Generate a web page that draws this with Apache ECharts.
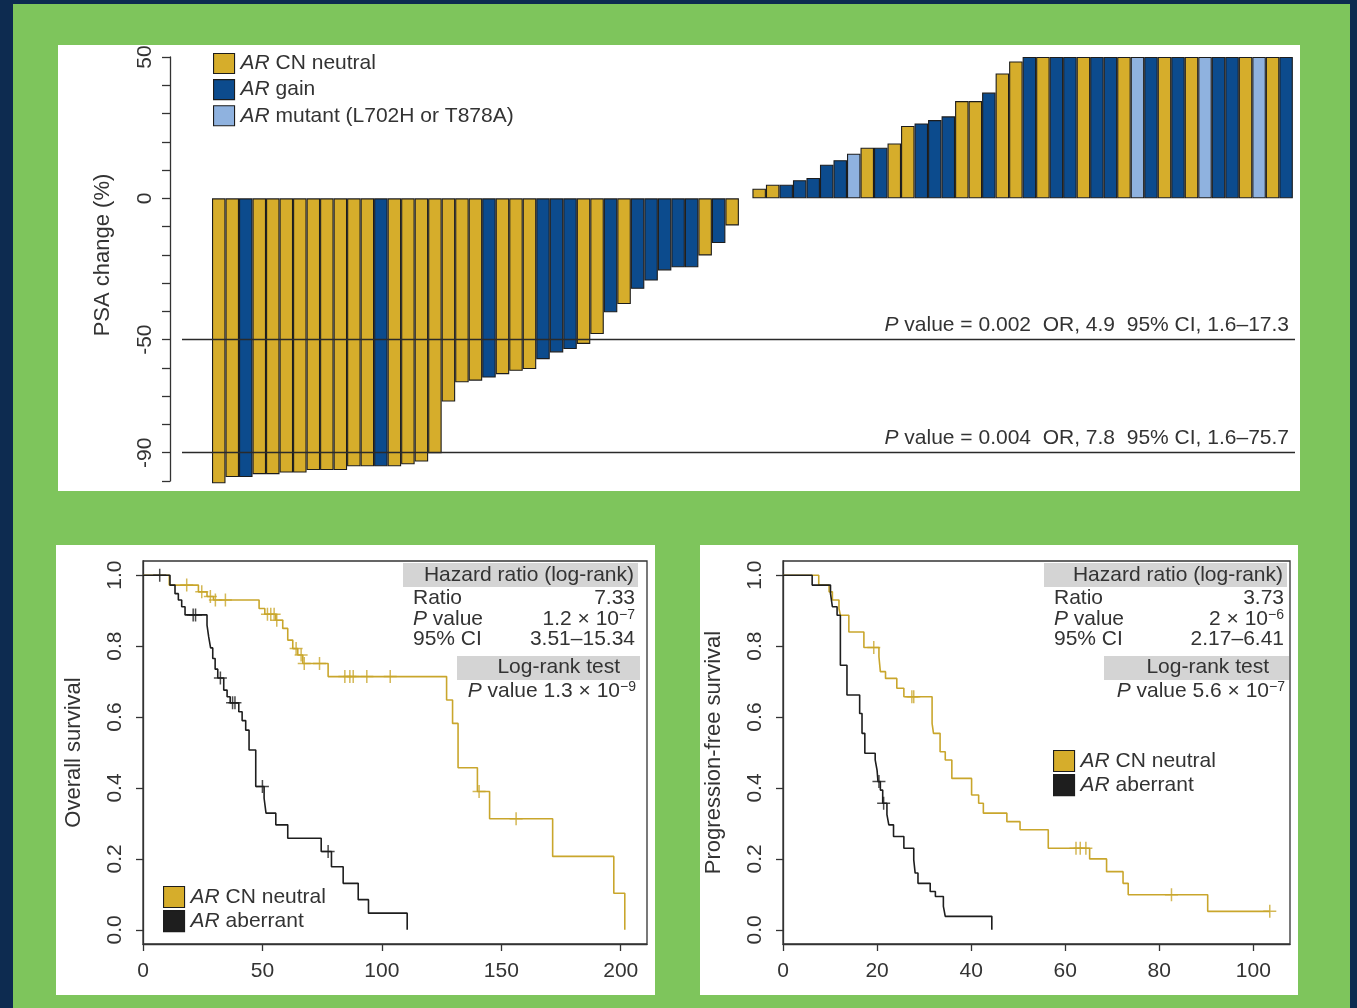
<!DOCTYPE html>
<html>
<head>
<meta charset="utf-8">
<script src="https://cdn.jsdelivr.net/npm/echarts@6/dist/echarts.min.js"></script>
<style>
  html, body { margin: 0; padding: 0; width: 1357px; height: 1008px; overflow: hidden; background: #0d2b50; }
  #bg { position: absolute; left: 13px; top: 4px; width: 1337px; height: 1004px; background: #7ec55c; }
  .panel { position: absolute; background: #ffffff; }
  #chart { position: absolute; left: 0; top: 0; width: 1357px; height: 1008px; }
</style>
</head>
<body>
<div id="bg"></div>
<div class="panel" style="left:58px;top:45px;width:1242px;height:446px"></div>
<div class="panel" style="left:56px;top:545px;width:599px;height:450px"></div>
<div class="panel" style="left:700px;top:545px;width:598px;height:450px"></div>
<div id="chart"></div>
<script>
// ---------- PSA waterfall: best PSA change per patient, sorted ----------
const psaChange = [
  -100.8, -98.6, -98.6, -97.6, -97.6, -97, -97, -96.1, -96.1, -96.1,
  -94.8, -94.8, -94.8, -94.8, -94.1, -93.1, -90.2, -71.9, -65.1, -64.5,
  -63.4, -62.2, -61, -60.4, -56.9, -54.5, -53.3, -51.5, -48, -40.3,
  -37.4, -32, -29.1, -25.5, -24.4, -24.4, -20.2, -15.8, -9.6, 0,
  3.4, 4.8, 4.8, 6.4, 7.2, 11.9, 13.5, 15.8, 17.9, 17.9,
  19.4, 25.6, 26.5, 27.7, 29, 34.4, 34.4, 37.4, 44.2, 48.4,
  50, 50, 50, 50, 50, 50, 50, 50, 50, 50,
  50, 50, 50, 50, 50, 50, 50, 50, 50, 50
];
// N = AR CN neutral, G = AR gain, M = AR mutant
const arStatus = [
  'N','N','G','N','N','N','N','N','N','N',
  'N','N','G','N','N','N','N','N','N','N',
  'G','N','N','N','G','G','G','N','N','G',
  'N','G','G','G','G','G','N','G','N','N',
  'N','N','G','G','G','G','G','M','N','G',
  'N','N','G','G','G','N','N','G','N','N',
  'G','N','G','G','N','G','G','N','M','G',
  'N','G','N','M','G','G','N','M','N','G'
];
const statusNames = { N: 'AR CN neutral', G: 'AR gain', M: 'AR mutant (L702H or T878A)' };
const psaTicks = [-100, -90, -80, -70, -60, -50, -40, -30, -20, -10, 0, 10, 20, 30, 40, 50];
const psaTickLabels = [-90, -50, 0, 50];
const responseCuts = [
  { level: -50, text: '{i|P} value = 0.002  OR, 4.9  95% CI, 1.6\u201317.3' },
  { level: -90, text: '{i|P} value = 0.004  OR, 7.8  95% CI, 1.6\u201375.7' }
];

// ---------- Kaplan-Meier: overall survival (months) ----------
const osNeutralTime = [0, 11, 23.2, 26.8, 29.5, 48.6, 51, 55.6, 58.5, 60.6, 62.7, 64.8, 66.9, 77.5, 127.1, 129.6, 131.9, 140, 145.1, 171.5, 197.1, 201.7];
const osNeutralSurv = [1, 0.972, 0.953, 0.94, 0.93, 0.906, 0.89, 0.873, 0.85, 0.817, 0.793, 0.775, 0.751, 0.714, 0.648, 0.582, 0.457, 0.39, 0.313, 0.207, 0.103, 0];
const osNeutralCensor = [18.3, 24.6, 28.2, 30.3, 34.5, 52.1, 53.5, 54.9, 56, 64.1, 66.2, 67.5, 73.9, 84.5, 86.6, 88, 93.7, 103.5, 140.7, 156.2];

const osAberrantTime = [0, 11.3, 13.4, 14.8, 16.2, 17.6, 26.8, 27.5, 28.3, 29.2, 30.2, 31.3, 33.8, 35.2, 36.5, 40.1, 41.5, 43, 44.4, 47.2, 50.7, 51.5, 55.6, 60.6, 74.6, 78.9, 83.8, 90.1, 94.4, 110.6];
const osAberrantSurv = [1, 0.972, 0.948, 0.93, 0.911, 0.888, 0.859, 0.826, 0.795, 0.765, 0.735, 0.71, 0.676, 0.657, 0.64, 0.615, 0.59, 0.563, 0.507, 0.404, 0.371, 0.329, 0.296, 0.258, 0.221, 0.178, 0.131, 0.085, 0.047, 0];
const osAberrantCensor = [7, 21, 22, 32.4, 37.5, 38.5, 50, 77.5];

// ---------- Kaplan-Meier: progression-free survival (months) ----------
const pfsNeutralTime = [0, 7.6, 9.8, 10.5, 11.9, 12.2, 14, 17.2, 20.4, 20.7, 21.8, 24.2, 25.7, 31.7, 32, 33.4, 34.5, 35.9, 40.1, 41.6, 42.6, 47.6, 50.4, 56.4, 65.2, 68.8, 72.3, 73.4, 90.3, 103.5];
const pfsNeutralSurv = [1, 0.972, 0.953, 0.93, 0.906, 0.887, 0.84, 0.796, 0.77, 0.728, 0.709, 0.681, 0.657, 0.582, 0.554, 0.502, 0.479, 0.427, 0.38, 0.357, 0.329, 0.305, 0.282, 0.23, 0.2, 0.164, 0.131, 0.099, 0.052, 0.052];
const pfsNeutralCensor = [19.3, 27.4, 27.8, 62.3, 63.2, 64.4, 82.6, 103.5];

const pfsAberrantTime = [0, 6.2, 10.1, 10.5, 11.5, 12.2, 13.6, 16.3, 16.8, 17.4, 19.6, 20.0, 20.2, 20.7, 21.2, 22.1, 22.5, 23.5, 25.7, 27.8, 28.1, 28.7, 31.3, 32.4, 34.1, 34.5, 44.4];
const pfsAberrantSurv = [1, 0.972, 0.948, 0.911, 0.887, 0.746, 0.662, 0.61, 0.554, 0.498, 0.479, 0.45, 0.418, 0.394, 0.357, 0.325, 0.296, 0.263, 0.23, 0.197, 0.16, 0.131, 0.108, 0.094, 0.066, 0.038, 0];
const pfsAberrantCensor = [20.4, 21.4];

const survTicks = [0, 0.2, 0.4, 0.6, 0.8, 1.0];
const osTicks = [0, 50, 100, 150, 200];
const pfsTicks = [0, 20, 40, 60, 80, 100];

// ---------- styling ----------
const FONT = '"Liberation Sans", Arial, Helvetica, sans-serif';
const INK = '#333333';
const GOLD = '#d6ad2b';
const NAVY = '#0c4b8d';
const SKY = '#8fb2df';
const KM_GOLD = '#c9a62c';
const KM_BLACK = '#1e1e1e';
const statusColors = { N: GOLD, G: NAVY, M: SKY };
const FS = 21;

const italicRich = {
  i: { fontStyle: 'italic', fontSize: FS, fontFamily: FONT, color: INK, lineHeight: 21 }
};

function barSeries(code) {
  const data = [];
  psaChange.forEach((v, i) => {
    if (arStatus[i] !== code) return;
    const item = { value: [i + 0.5, v] };
    if (v === 0) item.itemStyle = { borderWidth: 0 };
    data.push(item);
  });
  const s = {
    type: 'bar', name: statusNames[code], xAxisIndex: 0, yAxisIndex: 0,
    barWidth: 13.5, barGap: '-100%', clip: false,
    itemStyle: { color: statusColors[code], borderColor: '#1c1c1c', borderWidth: 1.1 },
    data: data
  };
  if (code === 'N') {
    s.markLine = {
      silent: true, symbol: 'none', animation: false,
      lineStyle: { color: '#2a2a2a', width: 1.3, type: 'solid' },
      label: {
        show: true, position: 'insideEndTop', distance: [6, 4],
        fontSize: FS, fontFamily: FONT, color: INK, rich: italicRich
      },
      data: responseCuts.map(c => ({ yAxis: c.level, label: { formatter: c.text } }))
    };
  }
  return s;
}

function stepData(times, surv) {
  return times.map((t, i) => [t, surv[i]]);
}
function survivalAt(times, surv, t) {
  let s = surv[0];
  for (let i = 0; i < times.length; i++) { if (times[i] <= t) s = surv[i]; }
  return s;
}
function censorData(censor, times, surv) {
  return censor.map(t => [t, survivalAt(times, surv, t)]);
}

function kmLine(name, grid, times, surv, color) {
  return {
    type: 'line', name: name, xAxisIndex: grid, yAxisIndex: grid,
    step: 'end', showSymbol: false, symbol: 'none',
    color: color, itemStyle: { color: color },
    lineStyle: { color: color, width: 1.6 },
    data: stepData(times, surv), z: 3
  };
}
function kmCensor(grid, censor, times, surv, color) {
  return {
    type: 'scatter', xAxisIndex: grid, yAxisIndex: grid,
    symbol: 'path://M0,6L12,6M6,0L6,12', symbolSize: 13,
    itemStyle: { color: 'rgba(0,0,0,0)', borderColor: color, borderWidth: 1.5 },
    data: censorData(censor, times, surv), z: 4, silent: true
  };
}

function kmXAxis(grid, max, ticks) {
  return {
    type: 'value', gridIndex: grid, min: 0, max: max,
    axisLine: { show: true, onZero: false, lineStyle: { color: INK, width: 1.3 } },
    axisTick: { show: true, length: 7, customValues: ticks, lineStyle: { color: INK, width: 1.3 } },
    axisLabel: { customValues: ticks, margin: 17, fontSize: FS, fontFamily: FONT, color: INK },
    splitLine: { show: false }
  };
}
function kmYAxis(grid, title) {
  return {
    type: 'value', gridIndex: grid, min: -0.04, max: 1.04,
    name: title, nameLocation: 'middle', nameRotate: 90, nameGap: 58,
    nameTextStyle: { fontSize: 22, fontFamily: FONT, color: INK },
    axisLine: { show: true, onZero: false, lineStyle: { color: INK, width: 1.3 } },
    axisTick: { show: true, length: 7, customValues: survTicks, lineStyle: { color: INK, width: 1.3 } },
    axisLabel: {
      customValues: survTicks, rotate: 90, margin: 17, fontSize: FS, fontFamily: FONT, color: INK,
      formatter: v => Number(v).toFixed(1)
    },
    splitLine: { show: false }
  };
}

// text helpers for the statistics blocks
const supRich = {
  i: { fontStyle: 'italic', fontSize: FS, fontFamily: FONT, fill: INK, lineHeight: 22 },
  s: { fontSize: 14, fontFamily: FONT, fill: INK, lineHeight: 11, verticalAlign: 'top' },
  n: { fontSize: FS, fontFamily: FONT, fill: INK, lineHeight: 22 }
};
function label(x, y, text, align) {
  return {
    type: 'text', x: x, y: y, silent: true, z: 10,
    style: {
      text: text, fill: INK, fontSize: FS, fontFamily: FONT,
      align: align || 'left', verticalAlign: 'middle', rich: supRich
    }
  };
}
function greyBox(x, y, w, h) {
  return { type: 'rect', silent: true, z: 9, shape: { x: x, y: y, width: w, height: h }, style: { fill: '#d4d4d4' } };
}
function statsBlock(left, right, lrLeft, ratio, pval, ci, lr) {
  return [
    greyBox(left - 10, 563, right - left + 13, 24),
    label(right - 1, 575, '{n|Hazard ratio (log-rank)}', 'right'),
    label(left, 598, '{n|Ratio}'),
    label(right, 598, '{n|' + ratio + '}', 'right'),
    label(left, 619, '{i|P}{n| value}'),
    label(right, 619, pval, 'right'),
    label(left, 639, '{n|95% CI}'),
    label(right, 639, '{n|' + ci + '}', 'right'),
    greyBox(lrLeft, 656, right + 5 - lrLeft, 24),
    label(right - 15, 667, '{n|Log-rank test}', 'right'),
    label(right + 1, 691, lr, 'right')
  ];
}

const graphics = [].concat(
  [{
    type: 'text', x: 103, y: 255, rotation: Math.PI / 2, silent: true,
    style: { text: 'PSA change (%)', fill: INK, fontSize: 22, fontFamily: FONT, align: 'center', verticalAlign: 'middle' }
  }],
  statsBlock(413, 635, 457, '7.33', '{n|1.2 \u00d7 10}{s|\u22127}', '3.51\u201315.34', '{i|P}{n| value 1.3 \u00d7 10}{s|\u22129}'),
  statsBlock(1054, 1284, 1104, '3.73', '{n|2 \u00d7 10}{s|\u22126}', '2.17\u20136.41', '{i|P}{n| value 5.6 \u00d7 10}{s|\u22127}')
);

const legendBase = {
  orient: 'vertical', icon: 'rect', itemWidth: 21, itemHeight: 21, itemGap: 2,
  padding: 0, selectedMode: false,
  itemStyle: { borderColor: '#1c1c1c', borderWidth: 1.1 },
  formatter: name => name.replace(/^AR/, '{i|AR}'),
  textStyle: { fontSize: FS, fontFamily: FONT, color: INK, lineHeight: 21, padding: [0, 0, 0, 1], rich: italicRich }
};

const chart = echarts.init(document.getElementById('chart'), null, { renderer: 'canvas' });
chart.setOption({
  animation: false,
  backgroundColor: 'transparent',
  textStyle: { fontFamily: FONT },
  grid: [
    { left: 182, right: 62, top: 57, height: 424, show: false },
    { left: 143, top: 561, width: 504, height: 383, show: true, borderColor: INK, borderWidth: 1.3, backgroundColor: 'transparent' },
    { left: 783, top: 561, width: 507, height: 383, show: true, borderColor: INK, borderWidth: 1.3, backgroundColor: 'transparent' }
  ],
  legend: [
    Object.assign({}, legendBase, { left: 213, top: 53, itemHeight: 20, itemGap: 5, data: [statusNames.N, statusNames.G, statusNames.M] }),
    Object.assign({}, legendBase, { left: 163, top: 886, data: ['AR CN neutral', 'AR aberrant'] }),
    Object.assign({}, legendBase, { left: 1053, top: 750, data: ['AR CN neutral', 'AR aberrant'] })
  ],
  xAxis: [
    { type: 'value', gridIndex: 0, min: -2.22, max: 80.16, show: false },
    kmXAxis(1, 211, osTicks),
    kmXAxis(2, 107.8, pfsTicks)
  ],
  yAxis: [
    {
      type: 'value', gridIndex: 0, min: -100, max: 50, offset: 12,
      axisLine: { show: true, onZero: false, lineStyle: { color: INK, width: 1.3 } },
      axisTick: { show: true, length: 8, customValues: psaTicks, lineStyle: { color: INK, width: 1.3 } },
      axisLabel: { customValues: psaTickLabels, rotate: 90, margin: 14, fontSize: FS, fontFamily: FONT, color: INK },
      splitLine: { show: false }
    },
    kmYAxis(1, 'Overall survival'),
    kmYAxis(2, 'Progression-free survival')
  ],
  series: [
    barSeries('N'), barSeries('G'), barSeries('M'),
    kmLine('AR CN neutral', 1, osNeutralTime, osNeutralSurv, KM_GOLD),
    kmLine('AR aberrant', 1, osAberrantTime, osAberrantSurv, KM_BLACK),
    kmCensor(1, osNeutralCensor, osNeutralTime, osNeutralSurv, KM_GOLD),
    kmCensor(1, osAberrantCensor, osAberrantTime, osAberrantSurv, KM_BLACK),
    kmLine('AR CN neutral', 2, pfsNeutralTime, pfsNeutralSurv, KM_GOLD),
    kmLine('AR aberrant', 2, pfsAberrantTime, pfsAberrantSurv, KM_BLACK),
    kmCensor(2, pfsNeutralCensor, pfsNeutralTime, pfsNeutralSurv, KM_GOLD),
    kmCensor(2, pfsAberrantCensor, pfsAberrantTime, pfsAberrantSurv, KM_BLACK)
  ],
  graphic: graphics
});
</script>
</body>
</html>
